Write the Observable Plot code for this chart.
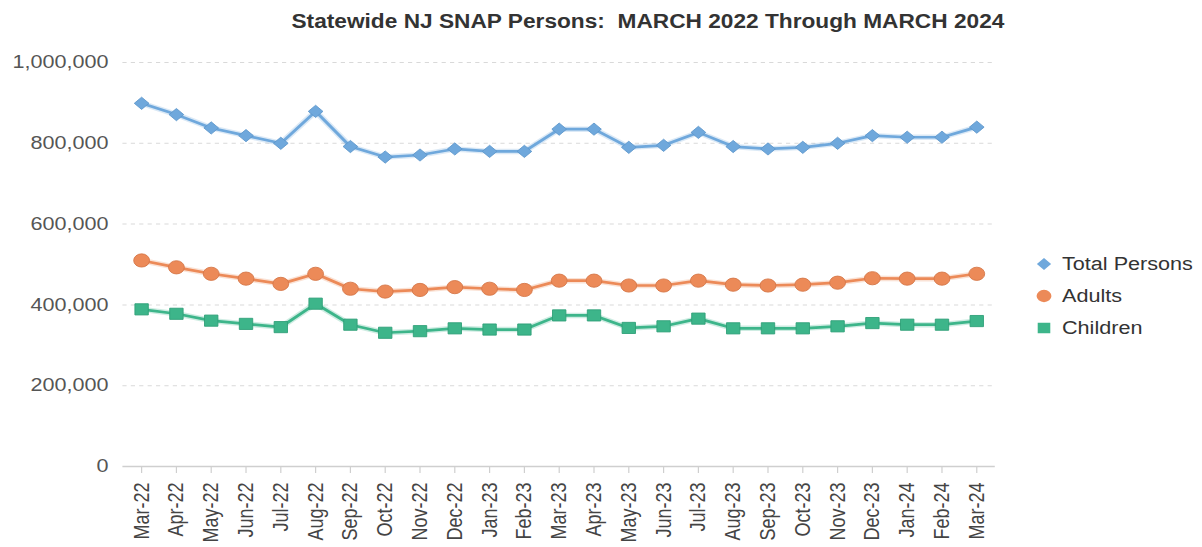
<!DOCTYPE html>
<html>
<head>
<meta charset="utf-8">
<script src="https://cdn.jsdelivr.net/npm/d3@7"></script>
<script src="https://cdn.jsdelivr.net/npm/@observablehq/plot@0.6"></script>
<style>
  html, body { margin: 0; padding: 0; background: #fff; overflow: hidden; }
  #wrap { position: relative; width: 1002px; height: 547px; transform: scaleX(1.2); transform-origin: 0 0; font-family: "Liberation Sans", Arial, sans-serif; }
  #title { position: absolute; left: 0; width: 1080px; top: 10px; text-align: center; font-family: "Liberation Sans Narrow", "Arial Narrow", "Liberation Sans", sans-serif; font-weight: bold; font-size: 20px; color: #333; white-space: nowrap; transform: scaleX(0.945); transform-origin: 539px 0; }
  #chart { position: absolute; left: 0; top: 40px; }
  #legend { position: absolute; left: 862px; top: 248px; font-size: 18px; color: #333; }
  #legend .item { display: flex; align-items: center; height: 32px; }
  #legend svg { width: 16px; height: 16px; margin-right: 7px; }
</style>
</head>
<body>
<div id="wrap">
  <div id="title">Statewide NJ SNAP Persons:&nbsp; MARCH 2022 Through MARCH 2024</div>
  <div id="chart"></div>
  <div id="legend"></div>
</div>
<script>
const months = ["Mar-22","Apr-22","May-22","Jun-22","Jul-22","Aug-22","Sep-22","Oct-22","Nov-22","Dec-22","Jan-23","Feb-23","Mar-23","Apr-23","May-23","Jun-23","Jul-23","Aug-23","Sep-23","Oct-23","Nov-23","Dec-23","Jan-24","Feb-24","Mar-24"];
const totalPersons = [899000,871000,838000,819000,800000,879000,792000,766000,771000,786000,780000,780000,835000,835000,790000,795000,827000,792000,786000,790000,800000,819000,815000,815000,840000];
const adults = [510000,493000,477000,465000,452000,477000,440000,433000,437000,444000,440000,437000,460000,460000,448000,448000,460000,450000,448000,450000,455000,466000,465000,465000,477000];
const children = [389000,378000,361000,353000,345000,403000,351000,331000,335000,342000,339000,339000,374000,374000,343000,347000,366000,342000,342000,342000,347000,355000,351000,351000,360000];
const seriesNames = ["Total Persons","Adults","Children"];
const seriesColors = ["#6fa8dc","#ec8a58","#3db58a"];
const seriesStrokes = ["#5f97cc","#d57648","#2f9f77"];
const seriesSymbols = ["diamond2","circle","square"];
const seriesR = [5.5, 6.6, 6.3];
const yTicks = [0,200000,400000,600000,800000,1000000];

const seriesValues = [totalPersons, adults, children];
const data = [];
seriesNames.forEach((name, i) => {
  months.forEach((m, j) => data.push({series: name, month: m, value: seriesValues[i][j]}));
});

const fmt = d3.format(",");
const chart = Plot.plot({
  width: 1002,
  height: 507,
  marginLeft: 102,
  marginRight: 173,
  marginTop: 22,
  marginBottom: 81,
  style: {fontFamily: "'Liberation Sans', Arial, sans-serif", fontSize: "18px", color: "#555", background: "transparent", overflow: "visible"},
  x: {type: "point", domain: months, padding: 0.535, round: false, label: null},
  y: {domain: [0, 1000000], label: null},
  marks: [
    Plot.ruleY(yTicks.filter(d => d > 0), {stroke: "#d9d9d9", strokeWidth: 1, strokeDasharray: "3.5,3.5"}),
    Plot.ruleY([0], {stroke: "#cfcfcf", strokeWidth: 1.5}),
    Plot.axisY({ticks: yTicks, tickFormat: fmt, tickSize: 0, tickPadding: 12, fill: "#555", fontSize: 18}),
    Plot.axisX({tickRotate: -90, tickSize: 7, tickPadding: 9, stroke: "#cfcfcf", fill: "#444", fontSize: 18}),
    ...seriesNames.map((name, i) => Plot.line(data.filter(d => d.series === name), {x: "month", y: "value", stroke: seriesColors[i], strokeWidth: 5.5, strokeOpacity: 0.25})),
    ...seriesNames.map((name, i) => Plot.line(data.filter(d => d.series === name), {x: "month", y: "value", stroke: seriesColors[i], strokeWidth: 2.7})),
    ...seriesNames.map((name, i) => Plot.dot(data.filter(d => d.series === name), {x: "month", y: "value", symbol: seriesSymbols[i], r: seriesR[i], fill: seriesColors[i], stroke: seriesStrokes[i], strokeWidth: 0.8}))
  ]
});
document.getElementById("chart").appendChild(chart);

const legend = document.getElementById("legend");
const symPaths = {
  diamond2: d3.symbol(d3.symbolDiamond2, 90)(),
  circle: d3.symbol(d3.symbolCircle, 120)(),
  square: d3.symbol(d3.symbolSquare, 110)()
};
seriesNames.forEach((name, i) => {
  const item = document.createElement("div");
  item.className = "item";
  item.innerHTML = `<svg viewBox="-8 -8 16 16"><path d="${symPaths[seriesSymbols[i]]}" fill="${seriesColors[i]}"></path></svg><span>${name}</span>`;
  legend.appendChild(item);
});
</script>
</body>
</html>
